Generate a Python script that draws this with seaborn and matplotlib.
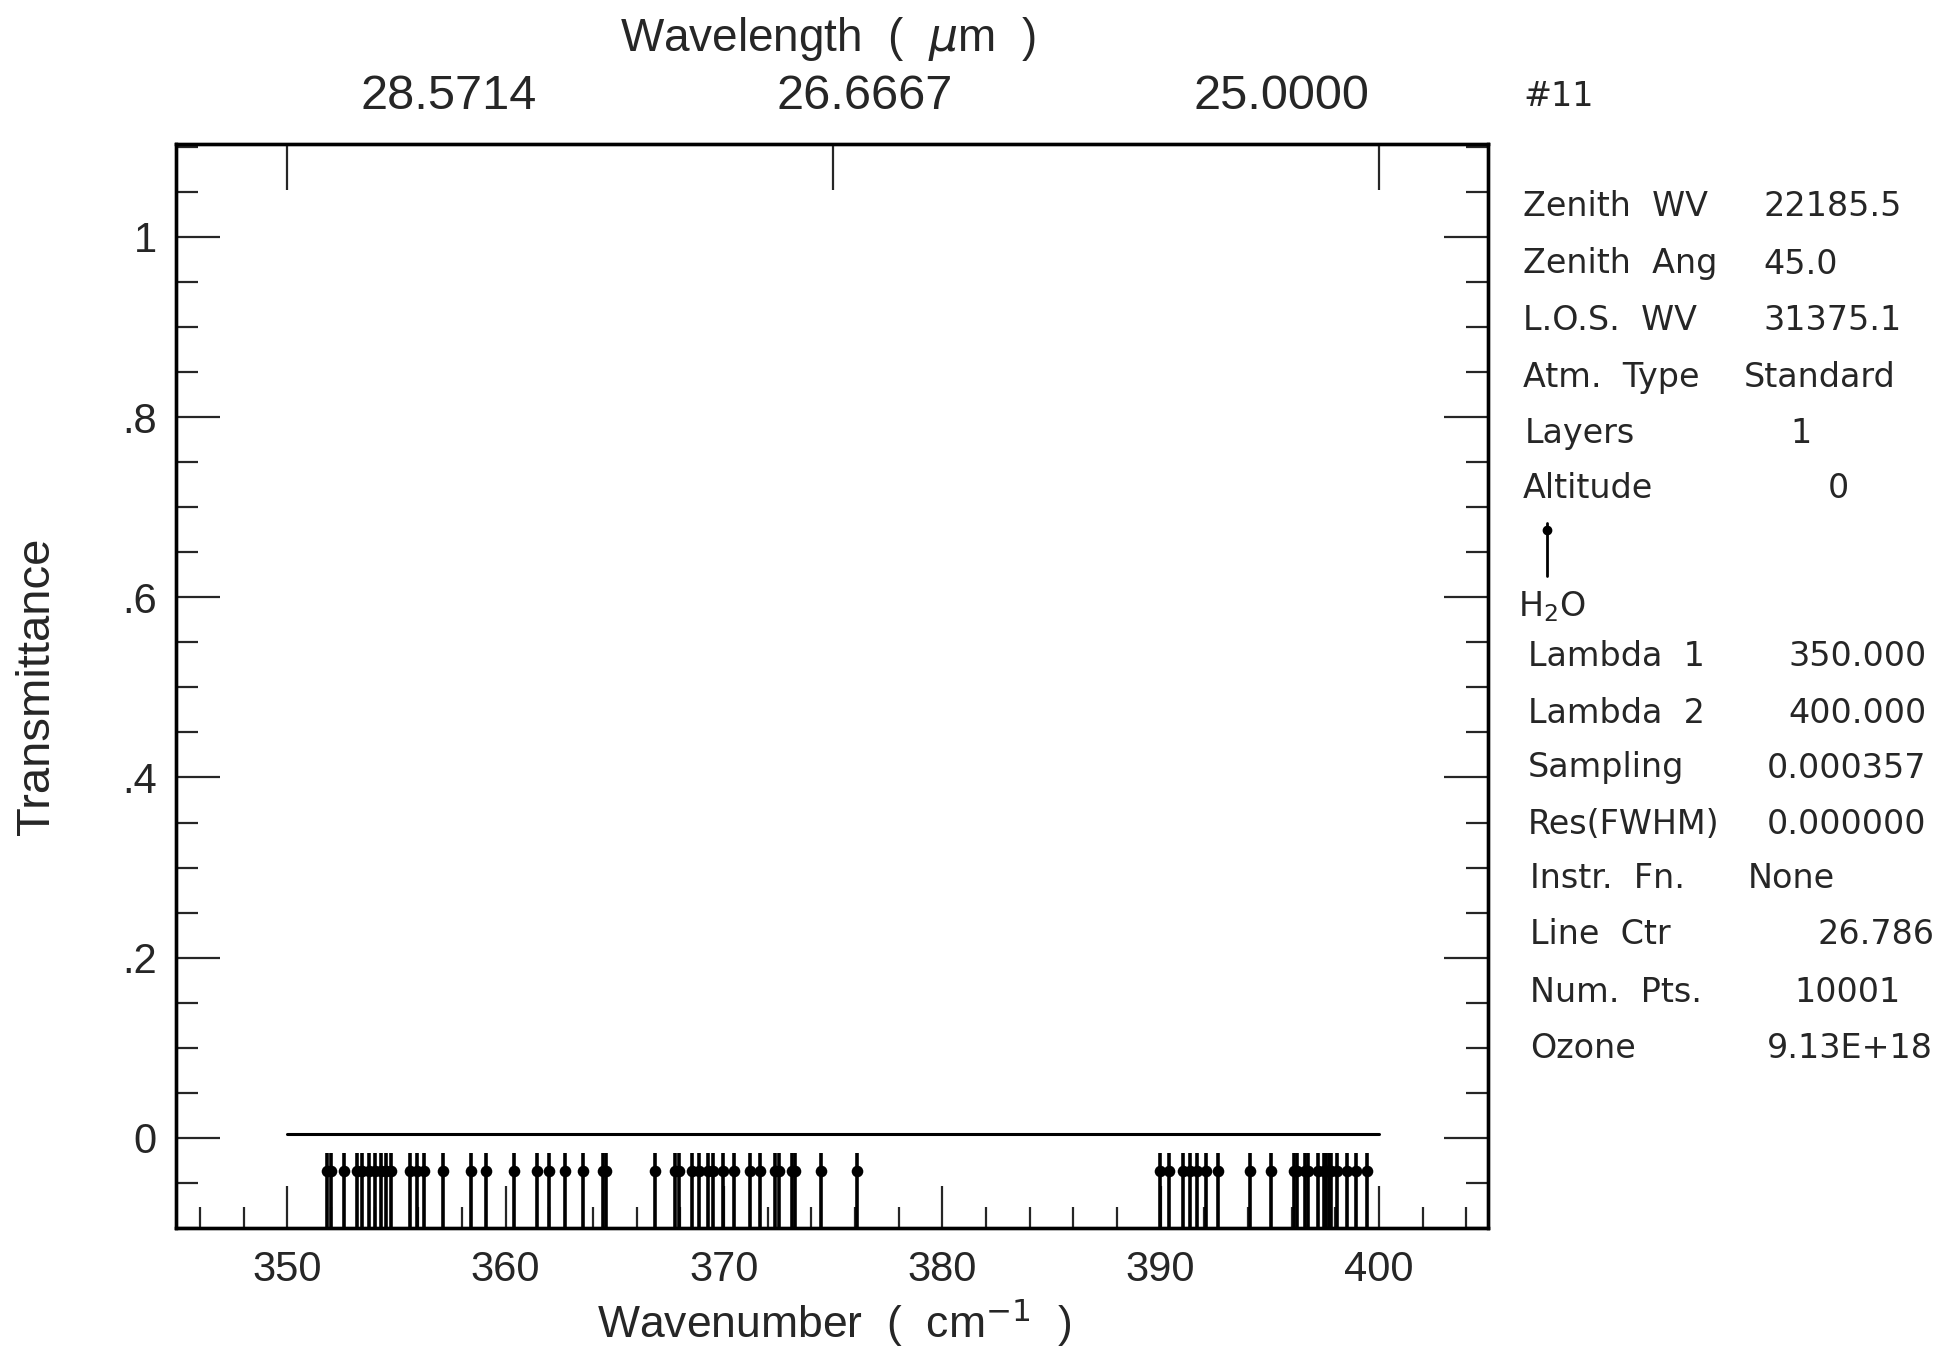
import numpy as np
import seaborn as sns
import matplotlib.pyplot as plt
from matplotlib.lines import Line2D
from matplotlib.ticker import MultipleLocator, FixedLocator, FixedFormatter, NullFormatter

# %% values

# H2O line centres (cm-1), drawn as stems below the curve
h2o_lines = [351.80, 352.00, 352.61, 353.17, 353.43, 353.74, 354.00, 354.27,
             354.50, 354.74, 355.61, 355.95, 356.28, 357.14, 358.43, 359.08,
             360.37, 361.44, 361.97, 362.74, 363.53, 364.48, 364.60,
             366.82, 367.77, 367.95, 368.53, 368.84, 369.27, 369.50, 369.95,
             370.44, 371.20, 371.66, 372.32, 372.54, 373.11, 373.26, 374.45,
             376.11,
             389.97, 390.39, 391.03, 391.34, 391.65, 392.10, 392.61, 394.12,
             395.08, 396.11, 396.27, 396.60, 396.76, 397.21, 397.47, 397.60,
             397.72, 397.83, 398.10, 398.56, 398.94, 399.46]

# transmittance stays at ~0 across the band
trans_wn = [350.0, 360.0, 370.0, 380.0, 390.0, 400.0]
trans_val = [0.004, 0.004, 0.004, 0.004, 0.004, 0.004]

wn_ticks = [350, 360, 370, 380, 390, 400]
wl_ticks = [350, 375, 400]
wl_labels = ["28.5714", "26.6667", "25.0000"]
y_ticks = [0, 0.2, 0.4, 0.6, 0.8, 1.0]
y_labels = ["0", ".2", ".4", ".6", ".8", "1"]

run_id = "#11"
info_names = ["Zenith  WV", "Zenith  Ang", "L.O.S.  WV", "Atm.  Type", "Layers",
              "Altitude", "Lambda  1", "Lambda  2", "Sampling", "Res(FWHM)",
              "Instr.  Fn.", "Line  Ctr", "Num.  Pts.", "Ozone"]
info_values = ["22185.5", "45.0", "31375.1", "Standard", "1", "0", "350.000",
               "400.000", "0.000357", "0.000000", "None", "26.786", "10001",
               "9.13E+18"]
molecule = "H$_2$O"

# the old plotting package drew the top labels off their ticks
wl_label_pos = [357.4, 376.45, 395.56]

# layout of the side panel (pixels in the 1954x1349 figure)
name_x = [1523, 1523, 1523, 1523, 1525, 1523, 1528, 1528, 1528, 1528, 1530, 1530, 1530, 1530]
value_x = [1763, 1763, 1763, 1744, 1790, 1828, 1788, 1788, 1767, 1767, 1748, 1817, 1794, 1767]
row_y = [207, 264, 321, 378, 434, 488, 657, 713, 768, 824, 878, 935, 992, 1048]

W, H = 1954, 1349


def px(x, y):
    return x / W, 1 - y / H


# %% Plot
sns.set_style("ticks")
plt.rcParams['font.family'] = ['Liberation Sans', 'DejaVu Sans']

fig = plt.figure(figsize=(W / 100, H / 100), dpi=100)
ax = fig.add_axes([176 / W, 121 / H, 1312 / W, 1084 / H])
ax2 = ax.twiny()

sns.lineplot(x=trans_wn, y=trans_val, ax=ax, color='black', lw=2.2)
ax.vlines(h2o_lines, -0.1, -0.017, color='black', lw=2.6)
sns.scatterplot(x=h2o_lines, y=np.full(len(h2o_lines), -0.037), ax=ax,
                color='black', s=70, marker='o', linewidth=0, zorder=3)

ax.set_xlim(344.9, 405.0)
ax.set_ylim(-0.1, 1.103)
ax.set_xticks(wn_ticks)
ax.xaxis.set_minor_locator(FixedLocator(np.arange(346, 405, 2)))
ax.set_yticks(y_ticks, y_labels)
ax.yaxis.set_minor_locator(MultipleLocator(0.05))

ax.tick_params(axis='x', which='major', direction='in', length=30, width=1.6,
               pad=16, labelsize=30, top=False, bottom=True)
ax.tick_params(axis='x', which='minor', direction='in', length=15, width=1.6,
               top=False, bottom=True)
ax.tick_params(axis='y', which='major', direction='in', length=32, width=1.6,
               pad=14, labelsize=30, left=True, right=True)
ax.tick_params(axis='y', which='minor', direction='in', length=16, width=1.6,
               left=True, right=True)

ax2.set_xlim(ax.get_xlim())
ax2.set_xticks(wl_ticks)
ax2.xaxis.set_major_formatter(NullFormatter())
ax2.xaxis.set_minor_locator(FixedLocator(wl_label_pos))
ax2.xaxis.set_minor_formatter(FixedFormatter(wl_labels))
ax2.tick_params(axis='x', which='major', direction='in', length=33, width=1.6)
ax2.tick_params(axis='x', which='minor', direction='in', length=0,
                pad=18, labelsize=35)

for a in (ax, ax2):
    for sp in a.spines.values():
        sp.set_linewidth(2.4)
        sp.set_color('black')

ax.set_ylabel("Transmittance", fontsize=34)
ax.yaxis.set_label_coords(-0.089, 0.5)
ax.set_xlabel("Wavenumber  (  cm$^{-1}$  )", fontsize=32)
ax.xaxis.set_label_coords(0.502, -0.063)
ax2.set_xlabel("Wavelength  (  $\\mu$m  )", fontsize=33)
ax2.xaxis.set_label_coords(0.497, 1.086)

# side panel
panel_font = dict(family=['DejaVu Sans'], fontsize=24, va='center', ha='left')
fig.text(*px(1523, 97), run_id, **panel_font)
for name, val, xn, xv, yy in zip(info_names, info_values, name_x, value_x, row_y):
    fig.text(*px(xn, yy), name, **panel_font)
    fig.text(*px(xv, yy), val, **panel_font)
fig.text(*px(1518, 607), molecule, **panel_font)

# little stem symbol above the molecule name
x0, y0 = px(1547, 576)
x1, y1 = px(1547, 523)
fig.add_artist(Line2D([x0, x1], [y0, y1], transform=fig.transFigure,
                      color='black', lw=2))
fig.add_artist(Line2D([x1], [px(1547, 530)[1]], transform=fig.transFigure,
                      color='black', marker='o', markersize=6, lw=0))

plt.savefig('out.png', dpi=100)
